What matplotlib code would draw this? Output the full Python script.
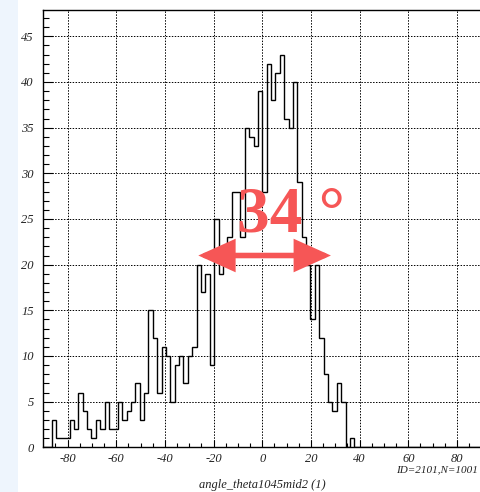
import numpy as np
import matplotlib
matplotlib.use("Agg")
from matplotlib import pyplot as plt
from matplotlib.patches import Rectangle

plt.rcParams.update({
    "figure.facecolor": "white",
    "axes.facecolor": "white",
    "savefig.facecolor": "white",
    "axes.unicode_minus": False,
    "font.family": ["Liberation Serif", "DejaVu Serif"],
})

# histogram contents, 100 bins over [-90, 90]
x_lo, x_hi, n_bins = -90, 90, 100
counts = [0, 0, 3, 1, 1, 1, 3, 2, 6, 4,
          2, 1, 3, 2, 5, 2, 2, 5, 3, 4,
          5, 7, 3, 6, 15, 12, 6, 11, 10, 5,
          9, 10, 7, 10, 11, 20, 17, 19, 9, 25,
          19, 21, 23, 28, 28, 23, 35, 34, 33, 39,
          28, 42, 38, 41, 43, 36, 35, 40, 29, 23,
          20, 14, 20, 12, 8, 5, 4, 7, 5, 0,
          1, 0, 0, 0, 0, 0, 0, 0, 0, 0,
          0, 0, 0, 0, 0, 0, 0, 0, 0, 0,
          0, 0, 0, 0, 0, 0, 0, 0, 0, 0]
x_ticks = [-80, -60, -40, -20, 0, 20, 40, 60, 80]
y_ticks = [0, 5, 10, 15, 20, 25, 30, 35, 40, 45]
x_title = "angle_theta1045mid2 (1)"
stats_text = "ID=2101,N=1001"
width_label = "34 °"
width_from, width_to, width_level = -26.3, 28.2, 21

red = "#f65656"

fig = plt.figure(figsize=(4.8, 4.92), dpi=100)
# pale strip on the left border of the window
fig.patches.append(Rectangle((0, 0), 18 / 480, 1, transform=fig.transFigure,
                             facecolor="#eef5fd", edgecolor="none", zorder=0))

ax = fig.add_axes([43.3 / 480, 1 - 447.3 / 492, 438 / 480, 437 / 492])
edges = np.linspace(x_lo, x_hi, n_bins + 1)
ax.stairs(counts, edges, color="black", lw=1.0, baseline=0, zorder=3)

ax.set_xlim(x_lo, x_hi)
ax.set_ylim(0, 47.85)
ax.set_xticks(x_ticks)
ax.set_xticks(np.arange(-85, 90, 5), minor=True)
ax.set_yticks(y_ticks)
ax.set_yticks(np.arange(0, 48, 1), minor=True)
ax.set_xticklabels([str(v) for v in x_ticks], fontstyle="italic", fontsize=9, color="#222222")
ax.set_yticklabels([str(v) for v in y_ticks], fontstyle="italic", fontsize=9, color="#222222")
ax.tick_params(axis="x", which="major", direction="in", length=5, width=0.8, pad=4)
ax.tick_params(axis="x", which="minor", direction="in", length=3, width=0.8)
ax.tick_params(axis="y", which="major", direction="in", length=7, width=0.8, pad=7)
ax.tick_params(axis="y", which="minor", direction="in", length=4.3, width=0.8)
for s in ax.spines.values():
    s.set_linewidth(1.0)

ax.grid(True, which="major", color="black", linestyle=(0, (1.5, 1.5)), linewidth=0.7)
ax.set_axisbelow(True)

# width marker
ax.annotate("", xy=(width_from, width_level), xytext=(width_to, width_level),
            arrowprops=dict(arrowstyle="<|-|>,head_length=20,head_width=9",
                            mutation_scale=1, lw=4.0, color=red,
                            joinstyle="miter", shrinkA=0, shrinkB=0), zorder=5)
ax.text(-10.5, 23.6, width_label, fontsize=47, fontweight="bold", color=red,
        ha="left", va="baseline", zorder=6)

fig.text(262 / 480, 1 - 485 / 492, x_title, fontstyle="italic", fontsize=9,
         ha="center", va="center", color="#222222")
fig.text(396 / 480, 1 - 470 / 492, stats_text, fontstyle="italic", fontsize=8,
         ha="left", va="center", color="#222222")

fig.savefig("out.png", dpi=100)
